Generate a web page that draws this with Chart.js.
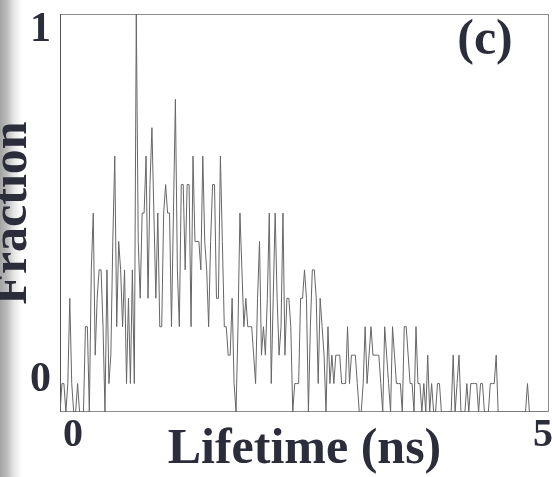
<!DOCTYPE html>
<html>
<head>
<meta charset="utf-8">
<script src="https://cdn.jsdelivr.net/npm/chart.js@4.4.1/dist/chart.umd.min.js"></script>
<style>
  html, body { margin: 0; padding: 0; }
  body {
    width: 552px; height: 477px; overflow: hidden;
    background: linear-gradient(to right, #a3a3a3 0px, #bcbcbc 7px, #e6e6e6 14px, #ffffff 22px);
  }
</style>
</head>
<body>
<canvas id="lifetimeChart" width="552" height="477"></canvas>
<script>
// lifetime histogram, 0.02 ns bins starting at 0 ns (counts)
const binWidth = 0.02;
const counts = [
  0, 1, 1, 0, 1, 4, 1, 0, 0, 1,
  0, 0, 0, 3, 3, 0, 5, 7, 2, 4,
  5, 5, 3, 0, 5, 1, 2, 6, 9, 3,
  6, 5, 3, 5, 1, 4, 1, 5, 1, 14,
  6, 4, 7, 7, 9, 4, 8, 10, 7, 4,
  7, 3, 3, 7, 8, 7, 7, 3, 7, 11,
  5, 3, 8, 8, 5, 8, 8, 3, 9, 6,
  6, 6, 5, 9, 6, 5, 3, 6, 8, 8,
  4, 4, 9, 6, 3, 3, 2, 2, 4, 1,
  0, 3, 7, 5, 3, 4, 3, 3, 3, 2,
  1, 4, 6, 2, 3, 2, 4, 7, 1, 4,
  7, 4, 2, 3, 7, 2, 4, 4, 3, 0,
  1, 1, 1, 4, 4, 5, 4, 0, 3, 5,
  5, 4, 1, 4, 3, 2, 0, 3, 1, 2,
  1, 2, 2, 2, 1, 1, 1, 3, 1, 2,
  2, 2, 1, 0, 0, 1, 3, 1, 2, 3,
  2, 2, 2, 2, 1, 0, 3, 2, 1, 0,
  3, 2, 1, 1, 1, 0, 3, 3, 2, 1,
  1, 0, 3, 1, 1, 0, 1, 0, 2, 0,
  1, 0, 0, 1, 1, 0, 0, 0, 0, 0,
  0, 2, 0, 1, 2, 0, 0, 0, 1, 0,
  1, 1, 1, 1, 0, 1, 1, 0, 0, 0,
  1, 1, 1, 2, 0, 0, 0, 0, 0, 0,
  0, 0, 0, 0, 0, 0, 0, 0, 0, 1,
  0, 0, 0, 0, 0, 0, 0, 0, 0, 0
];

const xTickValues = [0, 5];
const xTickLabels = ['0', '5'];
const yTickValues = [0, 1];
const yTickLabels = ['0', '1'];
const panelLabel = '(c)';

const serif = "'Liberation Serif', 'Times New Roman', serif";
const ink = '#2b2d3a';

const peak = Math.max(...counts);
const points = counts.map((c, i) => ({ x: i * binWidth, y: c / peak }));

// box round the plot area
const framePlugin = {
  id: 'frame',
  beforeDatasetsDraw(chart) {
    const { ctx, chartArea: { left, top, right, bottom } } = chart;
    ctx.save();
    ctx.lineWidth = 1;
    ctx.strokeStyle = '#8c8c8c';
    ctx.strokeRect(left + 0.5, top + 0.5, right - left - 1, bottom - top - 1);
    ctx.strokeStyle = '#555555';
    ctx.beginPath();
    ctx.moveTo(left + 0.5, top);
    ctx.lineTo(left + 0.5, bottom);
    ctx.stroke();
    ctx.restore();
  }
};

// "(c)" in the top right corner
const panelPlugin = {
  id: 'panel',
  afterDraw(chart) {
    const { ctx, chartArea: { top, right } } = chart;
    ctx.save();
    ctx.font = 'bold 50px ' + serif;
    ctx.fillStyle = ink;
    ctx.textAlign = 'center';
    ctx.textBaseline = 'middle';
    ctx.fillText(panelLabel, right - 64, top + 27);
    ctx.restore();
  }
};

// tick labels sit inside the axis ends, so no extra edge padding is needed
function noEdgePadding(s) {
  s.paddingTop = 0;
  s.paddingBottom = 0;
  s.paddingLeft = 0;
  s.paddingRight = 0;
}

new Chart(document.getElementById('lifetimeChart'), {
  type: 'line',
  data: {
    datasets: [{
      data: points,
      borderColor: '#666666',
      borderWidth: 1,
      pointRadius: 0,
      tension: 0,
      fill: false,
      xAxisID: 'x',
      yAxisID: 'y'
    }]
  },
  options: {
    responsive: false,
    animation: false,
    layout: { padding: { top: 14, right: 3, bottom: 0, left: 0 } },
    plugins: { legend: { display: false }, tooltip: { enabled: false } },
    scales: {
      x: { type: 'linear', min: 0, max: 5, display: false },
      y: { type: 'linear', min: 0, max: 1, display: false },
      xl: {
        type: 'linear', position: 'bottom', min: -0.138, max: 5.064,
        afterBuildTicks: s => { s.ticks = xTickValues.map(v => ({ value: v })); },
        ticks: {
          callback: (v, i) => xTickLabels[i],
          font: { family: serif, size: 40, weight: 'bold', lineHeight: 1.2 },
          color: ink, padding: 0, maxRotation: 0, autoSkip: false
        },
        grid: { display: false, drawTicks: false },
        border: { display: false },
        title: {
          display: true, text: 'Lifetime (ns)', color: ink,
          font: { family: serif, size: 50, weight: 'bold', lineHeight: 1.2 },
          padding: { top: 0, bottom: -3 }
        },
        afterFit: s => { s.height = 65; noEdgePadding(s); }
      },
      yl: {
        type: 'linear', position: 'left', min: -0.0914, max: 1.046,
        afterBuildTicks: s => { s.ticks = yTickValues.map(v => ({ value: v })); },
        ticks: {
          callback: (v, i) => yTickLabels[i],
          font: { family: serif, size: 42, weight: 'bold', lineHeight: 1.2 },
          color: ink, padding: 9, autoSkip: false
        },
        grid: { display: false, drawTicks: false },
        border: { display: false },
        title: {
          display: true, text: 'Fraction', color: ink,
          font: { family: serif, size: 50, weight: 'bold', lineHeight: 1.2 },
          padding: { top: -17, bottom: 0 }
        },
        afterFit: s => { s.width = 60; noEdgePadding(s); }
      }
    }
  },
  plugins: [framePlugin, panelPlugin]
});
</script>
</body>
</html>
